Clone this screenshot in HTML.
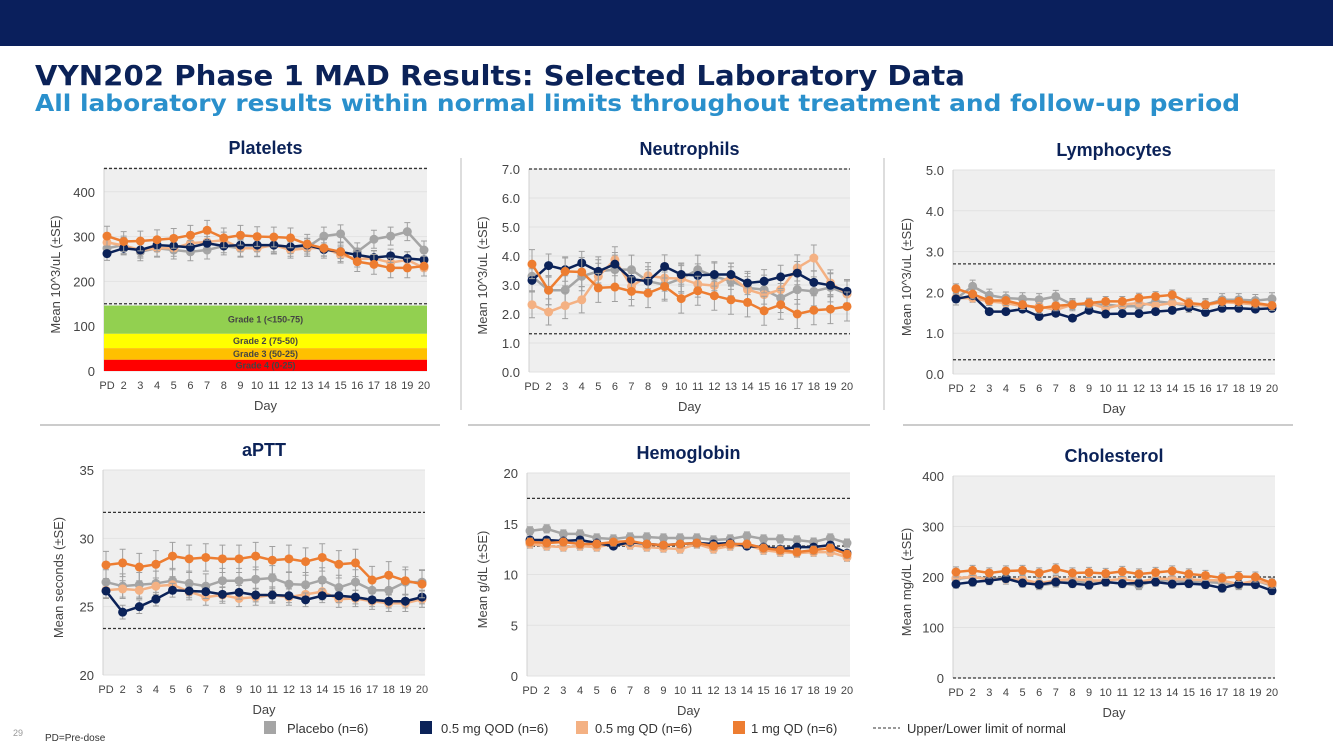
<!DOCTYPE html>
<html><head><meta charset="utf-8"><style>
html,body{margin:0;padding:0;background:#fff;}
svg{display:block;font-family:"Liberation Sans",Arial,sans-serif;}
</style></head><body>
<svg id="root" width="1333" height="749" viewBox="0 0 1333 749" xmlns="http://www.w3.org/2000/svg">
<rect x="0" y="0" width="1333" height="46" fill="#0a1f5c"/>
<text x="35" y="85" font-family="DejaVu Sans, sans-serif" font-weight="bold" font-size="28" fill="#0b2258" textLength="930" lengthAdjust="spacingAndGlyphs">VYN202 Phase 1 MAD Results:  Selected Laboratory Data</text>
<text x="35" y="111" font-family="DejaVu Sans, sans-serif" font-weight="bold" font-size="23" fill="#2a90cc" textLength="1205" lengthAdjust="spacingAndGlyphs">All laboratory results within normal limits throughout treatment and follow-up period</text>
<line x1="461" y1="158" x2="461" y2="410" stroke="#bbb"/>
<line x1="884" y1="158" x2="884" y2="410" stroke="#bbb"/>
<line x1="40" y1="425" x2="440" y2="425" stroke="#999"/>
<line x1="468" y1="425" x2="870" y2="425" stroke="#999"/>
<line x1="903" y1="425" x2="1293" y2="425" stroke="#999"/>
<g id="charts"></g>
<g font-size="13" fill="#333">
<rect x="264" y="721" width="12" height="13" fill="#a5a5a5"/>
<text x="287" y="733">Placebo (n=6)</text>
<rect x="420" y="721" width="12" height="13" fill="#0b2258"/>
<text x="441" y="733">0.5 mg QOD (n=6)</text>
<rect x="576" y="721" width="12" height="13" fill="#f4b183"/>
<text x="595" y="733">0.5 mg QD (n=6)</text>
<rect x="733" y="721" width="12" height="13" fill="#ed7d31"/>
<text x="751" y="733">1 mg QD (n=6)</text>
<line x1="873" y1="728" x2="900" y2="728" stroke="#333" stroke-dasharray="3,2"/>
<text x="907" y="733">Upper/Lower limit of normal</text>
</g>
<text x="13" y="736" font-size="9" fill="#999">29</text>
<text x="45" y="741" font-size="10" fill="#333">PD=Pre-dose</text>
</svg>
<script>
const days = ["PD","2","3","4","5","6","7","8","9","10","11","12","13","14","15","16","17","18","19","20"];
const seriesNames = ["placebo","qod-05","qd-05","qd-1"];
const seriesColors = ["#a5a5a5","#0b2258","#f4b183","#ed7d31"];
const drawOrder = [0,2,1,3];

const pltPlacebo = [274,281,266,274,270,266,270,279,274,275,281,276,276,301,306,266,294,301,311,270];
const pltQod = [262,274,270,281,279,276,285,279,281,281,281,277,281,271,266,259,253,257,251,248];
const pltQd05 = [287,280,270,274,274,285,288,292,274,274,281,270,274,275,259,250,251,242,248,230];
const pltQd1 = [301,289,290,293,296,303,314,297,303,300,299,297,283,274,266,244,238,230,230,234];
const pltSE = [20,15,18,22];

const neuPlacebo = [3.3,2.82,2.82,3.3,3.47,3.53,3.53,3.13,3.01,3.22,3.53,3.3,3.13,2.9,2.84,2.55,2.84,2.78,2.92,2.69];
const neuQod = [3.16,3.67,3.53,3.76,3.47,3.72,3.2,3.13,3.64,3.36,3.33,3.36,3.36,3.07,3.13,3.28,3.41,3.09,2.99,2.78];
const neuQd05 = [2.32,2.07,2.29,2.49,3.3,3.87,2.95,3.32,3.24,3.22,3.03,2.98,3.3,2.84,2.67,2.84,3.59,3.93,3.07,2.69];
const neuQd1 = [3.72,2.82,3.47,3.45,2.9,2.93,2.78,2.72,2.95,2.53,2.8,2.63,2.49,2.4,2.11,2.32,2.0,2.13,2.17,2.26];
const neuSE = [0.5,0.4,0.45,0.5];

const lymPlacebo = [1.84,2.15,1.93,1.86,1.84,1.82,1.9,1.7,1.7,1.7,1.66,1.66,1.78,1.74,1.66,1.7,1.82,1.82,1.8,1.84];
const lymQod = [1.84,1.92,1.53,1.53,1.59,1.41,1.49,1.37,1.56,1.47,1.48,1.48,1.53,1.56,1.63,1.51,1.61,1.61,1.59,1.61];
const lymQd05 = [1.86,1.86,1.78,1.74,1.66,1.66,1.57,1.7,1.74,1.61,1.7,1.74,1.68,1.74,1.71,1.68,1.76,1.74,1.7,1.66];
const lymQd1 = [2.09,1.96,1.8,1.8,1.7,1.61,1.67,1.7,1.74,1.78,1.78,1.86,1.9,1.94,1.74,1.7,1.78,1.78,1.74,1.68];
const lymSE = [0.15,0.08,0.1,0.12];

const apttPlacebo = [26.8,26.5,26.6,26.7,26.9,26.7,26.5,26.9,26.9,27.0,27.1,26.65,26.6,26.95,26.4,26.8,26.2,26.2,26.8,26.8];
const apttQod = [26.15,24.6,25.0,25.55,26.2,26.15,26.1,25.9,26.05,25.85,25.85,25.8,25.5,25.8,25.8,25.7,25.5,25.4,25.4,25.7];
const apttQd05 = [26.2,26.3,26.2,26.5,26.6,26.1,25.7,25.85,25.6,25.7,25.85,25.7,25.9,26.1,25.55,25.6,25.4,25.25,25.25,25.55];
const apttQd1 = [28.05,28.2,27.9,28.1,28.7,28.5,28.6,28.5,28.5,28.7,28.4,28.5,28.3,28.6,28.1,28.2,26.95,27.3,26.9,26.65];
const apttSE = [0.9,0.5,0.6,1.0];

const hgbPlacebo = [14.3,14.5,14.0,14.0,13.6,13.5,13.7,13.7,13.6,13.6,13.6,13.4,13.5,13.8,13.5,13.5,13.4,13.2,13.6,13.1];
const hgbQod = [13.4,13.4,13.3,13.4,13.1,12.8,13.2,13.0,12.9,13.0,13.1,13.0,13.1,12.8,12.7,12.5,12.7,12.7,12.9,12.1];
const hgbQd05 = [13.0,12.8,12.7,12.8,12.7,13.0,12.9,12.7,12.6,12.5,13.0,12.5,12.8,12.9,12.4,12.2,12.1,12.2,12.2,11.7];
const hgbQd1 = [13.2,13.1,13.2,13.0,13.0,13.2,13.3,13.0,12.9,13.0,13.1,12.8,13.0,13.0,12.6,12.4,12.2,12.4,12.6,12.0];
const hgbSE = [0.4,0.3,0.4,0.4];

const cholPlacebo = [196,200,196,198,191,183,188,191,190,190,187,183,193,193,190,190,188,183,193,183];
const cholQod = [186,190,193,197,188,185,190,187,184,190,187,188,190,186,187,185,178,186,185,173];
const cholQd05 = [198,200,195,196,195,188,193,196,193,193,196,190,197,196,195,194,193,186,193,185];
const cholQd1 = [210,213,208,212,213,208,216,208,209,207,211,206,209,212,206,203,198,201,200,188];
const cholSE = [8,8,10,10];

const pltTicks = [0,100,200,300,400];
const neuTicks = [0.0,1.0,2.0,3.0,4.0,5.0,6.0,7.0];
const lymTicks = [0.0,1.0,2.0,3.0,4.0,5.0];
const apttTicks = [20,25,30,35];
const hgbTicks = [0,5,10,15,20];
const cholTicks = [0,100,200,300,400];

const pltLimits = [150,452];
const neuLimits = [1.32,7.0];
const lymLimits = [0.35,2.7];
const apttLimits = [23.4,31.9];
const hgbLimits = [12.8,17.5];
const cholLimits = [0,200];

const gradeBands = [[83,146,"#92d050","Grade 1 (<150-75)"],[51,83,"#ffff00","Grade 2 (75-50)"],[25,51,"#ffc000","Grade 3 (50-25)"],[0,25,"#ff0000","Grade 4 (0-25)"]];

const NS = "http://www.w3.org/2000/svg";
function mk(tag, attrs, parent){const e=document.createElementNS(NS,tag);for(const k in attrs)e.setAttribute(k,attrs[k]);parent.appendChild(e);return e;}

const charts = [
 {id:"platelets",title:"Platelets",ylab:"Mean 10^3/uL (±SE)",l:104,r:427,t:168,b:371,min:0,max:453,ticks:pltTicks,dec:0,lim:pltLimits,data:[pltPlacebo,pltQod,pltQd05,pltQd1],se:pltSE,grades:true,ylx:60},
 {id:"neutrophils",title:"Neutrophils",ylab:"Mean 10^3/uL (±SE)",l:529,r:850,t:169,b:372,min:0,max:7,ticks:neuTicks,dec:1,lim:neuLimits,data:[neuPlacebo,neuQod,neuQd05,neuQd1],se:neuSE,ylx:487},
 {id:"lymphocytes",title:"Lymphocytes",ylab:"Mean 10^3/uL (±SE)",l:953,r:1275,t:170,b:374,min:0,max:5,ticks:lymTicks,dec:1,lim:lymLimits,data:[lymPlacebo,lymQod,lymQd05,lymQd1],se:lymSE,ylx:911},
 {id:"aptt",title:"aPTT",ylab:"Mean seconds (±SE)",l:103,r:425,t:470,b:675,min:20,max:35,ticks:apttTicks,dec:0,lim:apttLimits,data:[apttPlacebo,apttQod,apttQd05,apttQd1],se:apttSE,ylx:63},
 {id:"hemoglobin",title:"Hemoglobin",ylab:"Mean g/dL (±SE)",l:527,r:850,t:473,b:676,min:0,max:20,ticks:hgbTicks,dec:0,lim:hgbLimits,data:[hgbPlacebo,hgbQod,hgbQd05,hgbQd1],se:hgbSE,ylx:487},
 {id:"cholesterol",title:"Cholesterol",ylab:"Mean mg/dL (±SE)",l:953,r:1275,t:476,b:678,min:0,max:400,ticks:cholTicks,dec:0,lim:cholLimits,data:[cholPlacebo,cholQod,cholQd05,cholQd1],se:cholSE,ylx:911}
];

const root = document.getElementById("charts");
charts.forEach(c=>{
  const g = mk("g",{},root);
  
  
  const y = v => c.b - (v-c.min)/(c.max-c.min)*(c.b-c.t);
  const x = i => c.l + 3 + i*(c.r-c.l-6)/(days.length-1);
  const bg = mk("rect",{x:c.l,y:c.t,width:c.r-c.l,height:c.b-c.t,fill:"#efefef"},g);
  
  
  c.ticks.forEach(tv=>{
    const gl = mk("line",{x1:c.l,x2:c.r,y1:y(tv),y2:y(tv),stroke:"#e2e2e2"},g);
    
    
    const tl = mk("text",{x:c.l-9,y:y(tv)+5,"text-anchor":"end","font-size":"13",fill:"#444"},g);
    tl.textContent = tv.toFixed(c.dec);
    
    
  });
  mk("line",{x1:c.l,x2:c.l,y1:c.t,y2:c.b,stroke:"#d0d0d0"},g);
  if(c.grades){
    gradeBands.forEach(gb=>{
      const r = mk("rect",{x:c.l,y:y(gb[1]),width:c.r-c.l,height:y(gb[0])-y(gb[1]),fill:gb[2]},g);
      
      
      const t = mk("text",{x:(c.l+c.r)/2,y:(y(gb[0])+y(gb[1]))/2+3,"text-anchor":"middle","font-size":"9","font-weight":"bold",fill:"#444"},g);
      t.textContent = gb[3];
      
      
    });
  }
  c.lim.forEach(lv=>{
    const dl = mk("line",{x1:c.l,x2:c.r,y1:y(lv),y2:y(lv),stroke:"#333","stroke-width":"1.3","stroke-dasharray":"3,2"},g);
    
    
  });
  days.forEach((d,i)=>{
    const t = mk("text",{x:x(i),y:c.b+18,"text-anchor":"middle","font-size":"11",fill:"#444"},g);
    t.textContent = d;
    
    
  });
  const xt = mk("text",{x:(c.l+c.r)/2,y:c.b+39,"text-anchor":"middle","font-size":"13",fill:"#444"},g);
  xt.textContent = "Day";
  
  
  const ym = (c.t+c.b)/2+5;
  const yt = mk("text",{x:c.ylx,y:ym,"text-anchor":"middle","font-size":"13",fill:"#444",transform:"rotate(-90 "+c.ylx+" "+ym+")"},g);
  yt.textContent = c.ylab;
  
  
  const tt = mk("text",{x:(c.l+c.r)/2,y:c.t-14,"text-anchor":"middle","font-size":"18","font-weight":"bold",fill:"#0b2258"},g);
  if(c.grades) tt.setAttribute("y", 154);
  tt.textContent = c.title;
  
  
  drawOrder.forEach(si=>{
    const vals = c.data[si], se = c.se[si];
    const sg = mk("g",{},g);
    
    
    vals.forEach((v,i)=>{
      const eb = mk("path",{d:"M"+x(i)+","+y(v+se)+"V"+y(v-se)+"M"+(x(i)-3)+","+y(v+se)+"h6M"+(x(i)-3)+","+y(v-se)+"h6",stroke:"#a0a0a0","stroke-width":"1",fill:"none"},sg);
      
      
    });
    const pl = mk("polyline",{points:vals.map((v,i)=>x(i)+","+y(v)).join(" "),fill:"none",stroke:seriesColors[si],"stroke-width":"2.5"},sg);
    
    
    vals.forEach((v,i)=>{
      const p = mk("circle",{cx:x(i),cy:y(v),r:"4.5",fill:seriesColors[si]},sg);
      
      
    });
  });
});
</script>
</body></html>
